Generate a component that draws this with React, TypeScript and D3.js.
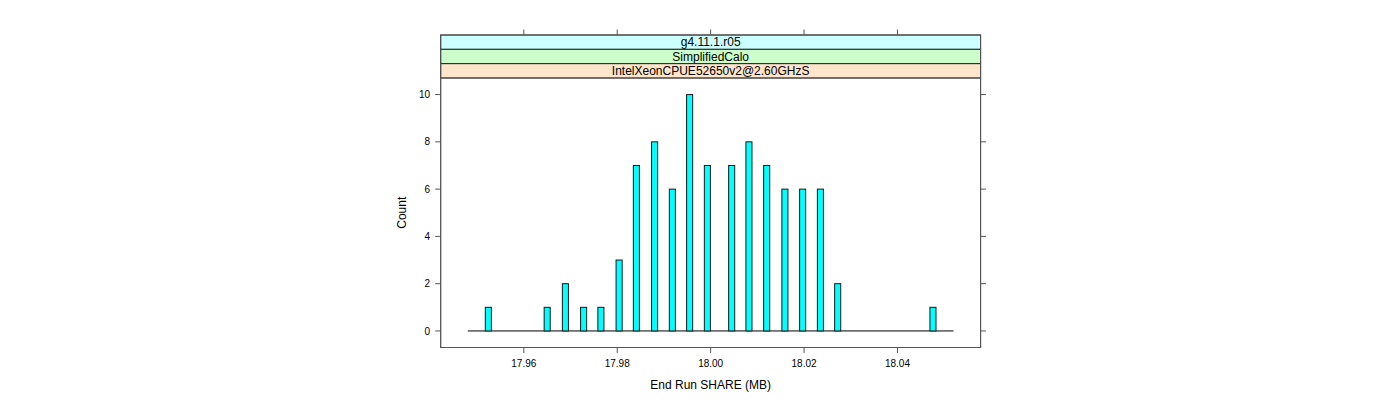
import React from "react";
import * as d3 from "d3";

// ---- data ----
const binCenters = [
  17.9524, 17.965, 17.9689, 17.9728, 17.9765, 17.9804, 17.9841, 17.988, 17.9918, 17.9955,
  17.9993, 18.0045, 18.0082, 18.012, 18.0159, 18.0197, 18.0235, 18.0272, 18.0476,
];
const counts = [1, 1, 2, 1, 1, 3, 7, 8, 6, 10, 7, 7, 8, 7, 6, 6, 6, 2, 1];
const binWidth = 0.0013;
const breaksRange = [17.948, 18.052];
const xTicks = [17.96, 17.98, 18.0, 18.02, 18.04];
const yTicks = [0, 2, 4, 6, 8, 10];
const xDomain = [17.9422, 18.0578];
const yDomain = [-0.7, 10.7];
const stripLabels = ["g4.11.1.r05", "SimplifiedCalo", "IntelXeonCPUE52650v2@2.60GHzS"];
const stripColors = ["#ccffff", "#ccffcc", "#ffe5cc"];
const xTitle = "End Run SHARE (MB)";
const yTitle = "Count";

export default function App() {
  const W = 1400;
  const H = 400;
  const left = 440.7;
  const right = 980.6;
  const top = 78;
  const bottom = 347.5;
  const stripTop = 35;
  const stripH = (top - stripTop) / stripLabels.length;

  const x = d3.scaleLinear().domain(xDomain).range([left, right]);
  const y = d3.scaleLinear().domain(yDomain).range([bottom, top]);
  const font = "'Liberation Sans', Arial, Helvetica, sans-serif";
  const axisCol = "#555";

  return (
    <div style={{ position: "absolute", left: 0, top: 0 }}>
      <svg width={W} height={H} style={{ display: "block", background: "#fff" }} fontFamily={font}>
        {/* strips */}
        {stripLabels.map((s, i) => (
          <g key={s}>
            <rect x={left} y={stripTop + i * stripH} width={right - left} height={stripH}
              fill={stripColors[i]} stroke="#222" strokeWidth={1} />
            <text x={(left + right) / 2} y={stripTop + i * stripH + stripH / 2 + 4.2}
              textAnchor="middle" fontSize={12} fill="#000">{s}</text>
          </g>
        ))}
        {/* panel box */}
        <rect x={left} y={top} width={right - left} height={bottom - top} fill="none" stroke={axisCol} strokeWidth={1} />
        <rect x={left} y={stripTop} width={right - left} height={bottom - stripTop} fill="none" stroke={axisCol} strokeWidth={1} />

        {/* baseline of empty bins */}
        <line x1={x(breaksRange[0])} x2={x(breaksRange[1])} y1={y(0)} y2={y(0)} stroke="#000" strokeWidth={1} />
        {/* bars */}
        {binCenters.map((c, i) => (
          <rect key={i} x={x(c - binWidth / 2)} y={y(counts[i])}
            width={x(c + binWidth / 2) - x(c - binWidth / 2)} height={y(0) - y(counts[i])}
            fill="#00ffff" stroke="#1a1a1a" strokeWidth={1} />
        ))}

        {/* x ticks: bottom and top */}
        {xTicks.map((t) => (
          <g key={t}>
            <line x1={x(t)} x2={x(t)} y1={bottom} y2={bottom + 5.5} stroke={axisCol} />
            <line x1={x(t)} x2={x(t)} y1={stripTop} y2={stripTop - 5.5} stroke={axisCol} />
            <text x={x(t)} y={367} textAnchor="middle" fontSize={10} fill="#000">{d3.format(".2f")(t)}</text>
          </g>
        ))}
        {/* y ticks: left and right */}
        {yTicks.map((t) => (
          <g key={t}>
            <line x1={left} x2={left - 5.5} y1={y(t)} y2={y(t)} stroke={axisCol} />
            <line x1={right} x2={right + 5.5} y1={y(t)} y2={y(t)} stroke={axisCol} />
            <text x={430} y={y(t) + 3.6} textAnchor="end" fontSize={10} fill="#000">{t}</text>
          </g>
        ))}

        {/* titles */}
        <text x={(left + right) / 2} y={389} textAnchor="middle" fontSize={12} fill="#000">{xTitle}</text>
        <text transform={`translate(406.3, ${(top + bottom) / 2}) rotate(-90)`} textAnchor="middle" fontSize={12} fill="#000">{yTitle}</text>
      </svg>
    </div>
  );
}
